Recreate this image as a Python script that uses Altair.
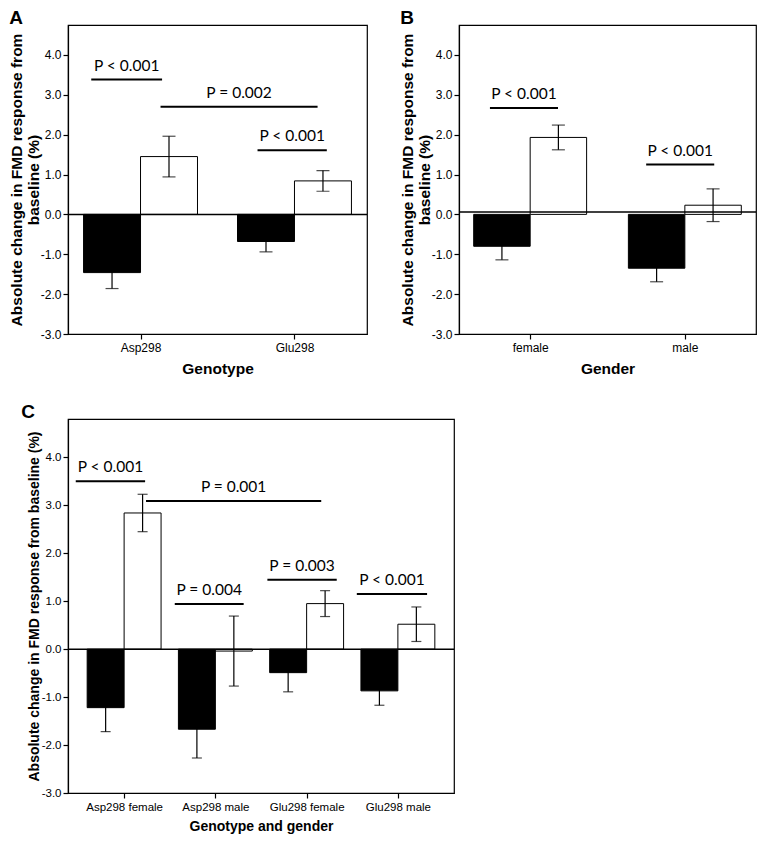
import altair as alt
import pandas as pd

# ---------------- data ----------------
# Panel A: genotype
a_categories = ["Asp298", "Glu298"]
a_solid_mean = [-1.46, -0.68]
a_solid_se = [0.40, 0.26]
a_open_mean = [1.45, 0.84]
a_open_se = [0.51, 0.26]
a_p_labels = ["P < 0.001", "P = 0.002", "P < 0.001"]
a_p_start = [0.68, 1.13, 1.76]   # category units (1 = first category)
a_p_end = [1.14, 2.15, 2.21]
a_p_y = [3.38, 2.70, 1.61]

# Panel B: gender
b_categories = ["female", "male"]
b_solid_mean = [-0.80, -1.35]
b_solid_se = [0.34, 0.34]
b_open_mean = [1.93, 0.23]
b_open_se = [0.31, 0.41]
b_ref_line = 0.06
b_p_labels = ["P < 0.001", "P < 0.001"]
b_p_start = [0.74, 1.75]
b_p_end = [1.18, 2.19]
b_p_y = [2.67, 1.25]

# Panel C: genotype and gender
c_categories = ["Asp298 female", "Asp298 male", "Glu298 female", "Glu298 male"]
c_solid_mean = [-1.22, -1.67, -0.49, -0.87]
c_solid_se = [0.50, 0.60, 0.40, 0.30]
c_open_mean = [2.84, -0.04, 0.95, 0.52]
c_open_se = [0.39, 0.73, 0.27, 0.36]
c_p_labels = ["P < 0.001", "P = 0.001", "P = 0.004", "P = 0.003", "P < 0.001"]
c_p_start = [0.47, 1.24, 1.555, 2.57, 3.55]
c_p_end = [1.23, 3.16, 2.31, 3.33, 4.32]
c_p_y = [3.50, 3.09, 0.94, 1.45, 1.15]

Y_TICKS = [-3, -2, -1, 0, 1, 2, 3, 4]
FONT = "Liberation Sans"
ANN_FONT = "Lato"


def panel(label, categories, solid_mean, solid_se, open_mean, open_se,
          p_labels, p_start, p_end, p_y, ref_line, half, x_domain, y_domain,
          width, height, xtitle, ytitle, label_size, title_size, cap,
          ytitle_pad, ytitle_lh, xtitle_pad):
    rows = []
    for i, cat in enumerate(categories):
        c = i + 1
        rows.append(dict(series="solid", x=c - half, x2=c, xm=c - half / 2,
                         mean=solid_mean[i], lo=solid_mean[i] - solid_se[i],
                         hi=solid_mean[i] + solid_se[i], base=0.0))
        rows.append(dict(series="open", x=c, x2=c + half, xm=c + half / 2,
                         mean=open_mean[i], lo=open_mean[i] - open_se[i],
                         hi=open_mean[i] + open_se[i], base=0.0))
    df = pd.DataFrame(rows)
    caps = pd.concat([
        df[["series", "xm", "lo"]].rename(columns={"lo": "v"}),
        df[["series", "xm", "hi"]].rename(columns={"hi": "v"}),
    ])
    ann = pd.DataFrame({"label": p_labels, "x": p_start, "x2": p_end, "y": p_y})
    ann["xc"] = (ann["x"] + ann["x2"]) / 2
    ref = pd.DataFrame({"y": [ref_line]})

    lab_js = "[" + ",".join("'" + c + "'" for c in categories) + "]"
    xscale = alt.Scale(domain=x_domain, nice=False, zero=False)
    yscale = alt.Scale(domain=y_domain, nice=False, zero=False)
    xaxis = alt.Axis(values=list(range(1, len(categories) + 1)),
                     labelExpr=lab_js + "[datum.value - 1]",
                     title=xtitle, labelFontSize=label_size,
                     titleFontSize=title_size, titleFontWeight="bold",
                     tickSize=5, labelPadding=3, titlePadding=xtitle_pad,
                     domain=True, grid=False, labelFont=FONT, titleFont=FONT)
    yaxis = alt.Axis(values=Y_TICKS,
                     labelExpr="(datum.value < 0 ? '-' : '') + format(abs(datum.value), '.1f')",
                     title=ytitle,
                     labelFontSize=label_size, titleFontSize=title_size,
                     titleFontWeight="bold", tickSize=5, labelPadding=2,
                     titlePadding=ytitle_pad, titleLineHeight=ytitle_lh,
                     grid=False, labelFont=FONT, titleFont=FONT)

    bars = alt.Chart(df).mark_rect(stroke="black", strokeWidth=1).encode(
        x=alt.X("x:Q", scale=xscale, axis=xaxis),
        x2="x2:Q",
        y=alt.Y("mean:Q", scale=yscale, axis=yaxis),
        y2="base:Q",
        fill=alt.Fill("series:N", scale=alt.Scale(domain=["solid", "open"],
                                                 range=["black", "white"]),
                      legend=None),
    )
    zero = alt.Chart(ref).mark_rule(color="black", strokeWidth=1.5).encode(
        y=alt.Y("y:Q", scale=yscale))
    err = alt.Chart(df).mark_rule(color="black", strokeWidth=1.2).encode(
        x=alt.X("xm:Q", scale=xscale), y=alt.Y("lo:Q", scale=yscale), y2="hi:Q")
    capm = alt.Chart(caps).mark_tick(orient="horizontal", size=cap,
                                     thickness=1.2, color="black").encode(
        x=alt.X("xm:Q", scale=xscale), y=alt.Y("v:Q", scale=yscale))
    lines = alt.Chart(ann).mark_rule(color="black", strokeWidth=2).encode(
        x=alt.X("x:Q", scale=xscale), x2="x2:Q", y=alt.Y("y:Q", scale=yscale))
    texts = alt.Chart(ann).mark_text(font=ANN_FONT, fontSize=15.5,
                                     baseline="alphabetic", dy=-9,
                                     color="black").encode(
        x=alt.X("xc:Q", scale=xscale), y=alt.Y("y:Q", scale=yscale),
        text="label:N")

    return alt.layer(bars, zero, err, capm, lines, texts).properties(
        width=width, height=height,
        title=alt.Title(label, anchor="start", fontSize=19, font=FONT,
                        fontWeight="bold", offset=-3),
    )


A = panel("A", a_categories, a_solid_mean, a_solid_se, a_open_mean, a_open_se,
          a_p_labels, a_p_start, a_p_end, a_p_y, 0.0, 0.37,
          [0.529, 2.471], [-3, 4.75], 299, 309, "Genotype",
          ["Absolute change in FMD response from", "baseline (%)"],
          12, 15.5, 13, -1, 17, 8)
B = panel("B", b_categories, b_solid_mean, b_solid_se, b_open_mean, b_open_se,
          b_p_labels, b_p_start, b_p_end, b_p_y, b_ref_line, 0.365,
          [0.54, 2.46], [-3, 4.75], 297, 309, "Gender",
          ["Absolute change in FMD response from", "baseline (%)"],
          12, 15.5, 13, -1, 17, 8)
C = panel("C", c_categories, c_solid_mean, c_solid_se, c_open_mean, c_open_se,
          c_p_labels, c_p_start, c_p_end, c_p_y, 0.0, 0.405,
          [0.385, 4.615], [-3, 4.8], 386, 374, "Genotype and gender",
          ["", "Absolute change in FMD response from baseline (%)"],
          11.5, 14, 10, 0, 6, 7)

top = alt.hconcat(A, B, spacing=30).resolve_scale(x="independent", y="independent")
chart = alt.vconcat(top, C, spacing=24).resolve_scale(
    x="independent", y="independent"
).properties(
    padding={"left": 0, "top": 0, "right": 0, "bottom": 0}
).configure_view(stroke="black", strokeWidth=1.2).configure_axis(
    domainColor="black", tickColor="black", labelColor="black",
    titleColor="black", domainWidth=1.2, tickWidth=1.2
)

chart.save("out.html", embed_options={"renderer": "svg", "actions": False})
